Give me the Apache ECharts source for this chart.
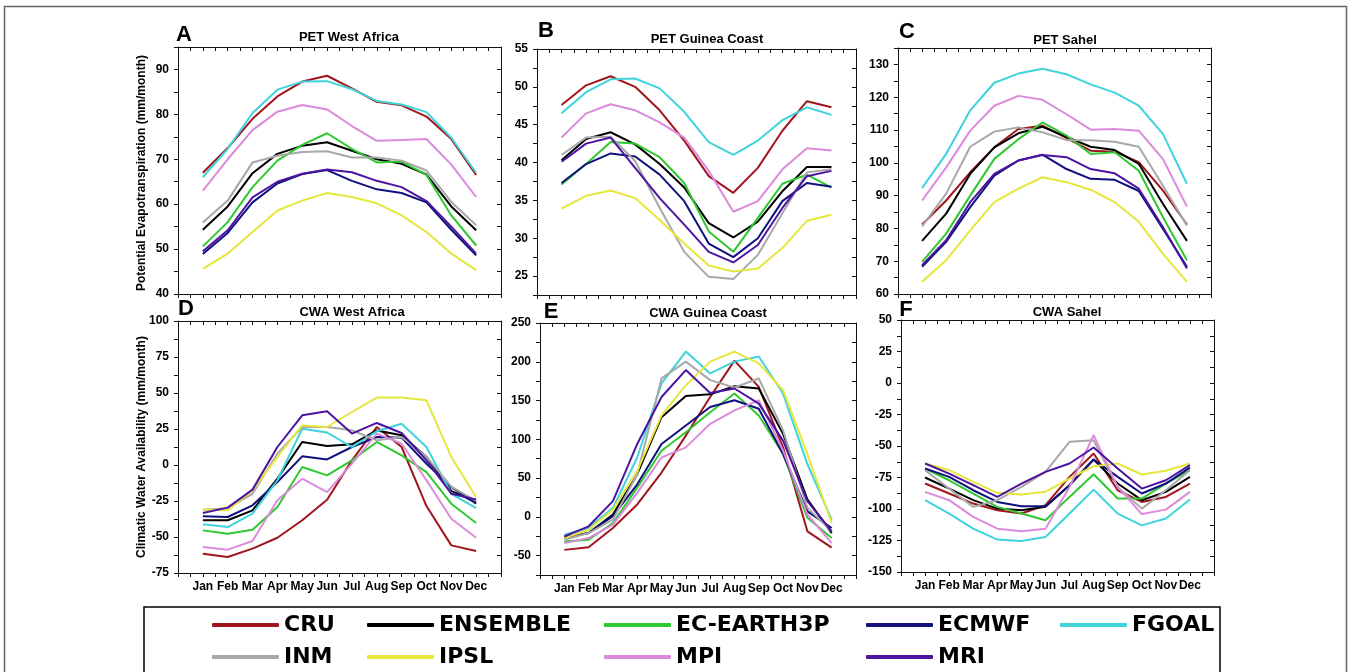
<!DOCTYPE html>
<html>
<head>
<meta charset="utf-8">
<script src="https://cdn.jsdelivr.net/npm/echarts@6/dist/echarts.min.js"></script>
<style>
html,body{margin:0;padding:0;background:#fff;}
#chart{width:1352px;height:672px;}
</style>
</head>
<body>
<div id="chart"></div>
<script>
// ---------------- DATA ----------------
const months = ['Jan','Feb','Mar','Apr','May','Jun','Jul','Aug','Sep','Oct','Nov','Dec'];
const models = ['CRU','ENSEMBLE','EC-EARTH3P','ECMWF','FGOAL','INM','IPSL','MPI','MRI'];

const petWestAfrica = {
  'CRU':        [67.0, 72.5, 79.0, 84.0, 87.3, 88.6, 85.8, 82.8, 82.0, 79.5, 74.5, 66.5],
  'ENSEMBLE':   [54.3, 59.5, 66.9, 71.2, 73.0, 73.8, 71.9, 70.0, 69.0, 66.6, 59.5, 54.2],
  'EC-EARTH3P': [50.6, 56.0, 63.8, 69.7, 73.2, 75.8, 72.3, 69.3, 69.5, 66.5, 57.5, 50.8],
  'ECMWF':      [48.9, 53.6, 60.4, 64.6, 66.7, 67.6, 65.2, 63.3, 62.5, 60.4, 54.3, 48.6],
  'FGOAL':      [66.0, 72.3, 80.3, 85.5, 87.3, 87.4, 85.6, 83.0, 82.2, 80.5, 74.8, 67.0],
  'INM':        [55.9, 60.8, 69.3, 70.8, 71.6, 71.8, 70.4, 70.4, 69.7, 67.5, 60.5, 55.3],
  'IPSL':       [45.6, 49.0, 53.8, 58.6, 60.8, 62.5, 61.6, 60.2, 57.5, 53.8, 49.0, 45.3],
  'MPI':        [63.0, 70.0, 76.5, 80.6, 82.1, 81.1, 77.4, 74.1, 74.3, 74.5, 68.8, 61.6],
  'MRI':        [49.5, 54.2, 61.5, 65.0, 66.8, 67.7, 67.1, 65.2, 63.8, 60.7, 55.0, 49.0]
};
const petGuineaCoast = {
  'CRU':        [47.6, 50.2, 51.4, 50.0, 46.9, 42.9, 38.2, 36.0, 39.3, 44.2, 48.1, 47.3],
  'ENSEMBLE':   [40.3, 43.1, 44.0, 42.4, 39.8, 36.7, 32.0, 30.1, 32.2, 36.2, 39.4, 39.4],
  'EC-EARTH3P': [37.1, 39.8, 42.7, 42.5, 40.7, 37.3, 30.9, 28.2, 32.7, 37.2, 38.4, 36.7],
  'ECMWF':      [37.3, 39.8, 41.2, 40.8, 38.4, 34.9, 29.3, 27.5, 30.0, 34.9, 37.3, 36.8],
  'FGOAL':      [46.5, 49.3, 51.0, 51.1, 49.8, 46.7, 42.7, 41.0, 42.9, 45.6, 47.3, 46.3],
  'INM':        [41.0, 43.3, 43.4, 40.2, 34.0, 28.2, 24.9, 24.6, 27.8, 33.3, 38.7, 39.1],
  'IPSL':       [33.9, 35.6, 36.3, 35.3, 32.4, 29.3, 26.4, 25.6, 26.0, 28.7, 32.3, 33.1],
  'MPI':        [43.3, 46.5, 47.7, 46.9, 45.3, 43.3, 38.9, 33.5, 34.9, 39.1, 41.9, 41.6],
  'MRI':        [40.1, 42.5, 43.3, 39.3, 35.3, 31.8, 28.2, 26.8, 29.1, 34.0, 38.2, 38.9]
};
const petSahel = {
  'CRU':        [81.2, 88.5, 97.1, 104.7, 110.3, 111.3, 107.5, 103.7, 103.4, 100.2, 91.6, 81.2],
  'ENSEMBLE':   [76.2, 84.5, 96.6, 104.7, 109.0, 111.0, 107.9, 104.9, 103.9, 99.7, 87.5, 76.2],
  'EC-EARTH3P': [69.8, 78.4, 90.0, 101.2, 107.2, 112.3, 108.3, 102.7, 103.2, 97.6, 83.5, 70.3],
  'ECMWF':      [68.3, 75.9, 86.5, 96.1, 100.7, 102.5, 98.1, 95.1, 94.8, 91.4, 79.9, 68.3],
  'FGOAL':      [92.3, 102.7, 116.0, 124.4, 127.2, 128.7, 127.0, 123.9, 121.4, 117.4, 108.8, 93.6],
  'INM':        [80.6, 90.6, 104.9, 109.5, 110.8, 109.3, 106.9, 106.9, 106.4, 104.9, 93.1, 80.9],
  'IPSL':       [63.7, 70.3, 79.4, 88.0, 92.1, 95.6, 94.1, 91.8, 88.0, 82.0, 72.3, 63.7],
  'MPI':        [88.5, 98.6, 109.8, 117.4, 120.4, 119.2, 114.8, 110.1, 110.3, 109.8, 101.2, 86.7],
  'MRI':        [68.8, 76.4, 88.0, 96.6, 100.7, 102.4, 101.7, 98.1, 96.8, 92.1, 80.4, 67.8]
};
const cwaWestAfrica = {
  'CRU':        [-61.6, -63.9, -58.1, -50.5, -38.4, -24.1, 3.2, 26.4, 12.5, -28.5, -55.8, -59.7],
  'ENSEMBLE':   [-38.4, -38.4, -31.5, -9.5, 16.0, 13.2, 14.4, 24.0, 20.6, 5.6, -18.0, -26.0],
  'EC-EARTH3P': [-45.4, -47.7, -44.9, -29.2, -1.4, -7.2, 3.2, 16.0, 6.7, -4.9, -26.9, -40.3],
  'ECMWF':      [-35.6, -36.1, -28.0, -11.8, 6.0, 3.9, 12.5, 19.4, 19.0, 0.9, -15.3, -26.9],
  'FGOAL':      [-41.2, -43.1, -33.8, -10.6, 25.2, 22.5, 12.5, 23.4, 28.7, 12.5, -20.0, -30.0],
  'INM':        [-31.0, -30.0, -20.0, 7.9, 26.4, 26.4, 24.1, 17.1, 19.4, 5.6, -15.0, -25.0],
  'IPSL':       [-31.0, -31.5, -17.6, 5.6, 27.5, 26.4, 36.8, 46.8, 46.8, 44.9, 5.6, -22.2],
  'MPI':        [-57.0, -58.8, -52.8, -24.5, -9.5, -18.8, 0.9, 21.8, 14.8, -10.6, -37.3, -50.5],
  'MRI':        [-33.3, -29.6, -17.1, 12.5, 34.5, 37.3, 21.8, 29.2, 22.2, 3.2, -19.9, -24.0]
};
const cwaGuineaCoast = {
  'CRU':        [-42.6, -39.1, -14.4, 16.0, 57.1, 104.8, 154.6, 201.5, 167.6, 89.6, -18.7, -39.6],
  'ENSEMBLE':   [-27.4, -20.9, 3.0, 55.0, 128.6, 156.0, 158.0, 168.5, 165.5, 107.0, 22.5, -20.9],
  'EC-EARTH3P': [-31.7, -29.6, -7.9, 37.7, 85.3, 109.1, 135.0, 159.0, 130.8, 81.0, -1.3, -27.4],
  'ECMWF':      [-26.5, -20.9, 0.8, 42.0, 94.0, 117.8, 141.6, 150.3, 139.5, 81.0, 7.0, -14.4],
  'FGOAL':      [-23.1, -14.4, 11.6, 76.6, 172.0, 213.2, 185.0, 200.2, 206.7, 159.0, 68.0, -3.6],
  'INM':        [-29.6, -20.9, -3.6, 55.0, 178.5, 200.2, 176.3, 166.8, 178.5, 111.3, 11.7, -18.7],
  'IPSL':       [-27.4, -16.6, 9.4, 59.3, 130.8, 169.8, 200.2, 213.2, 198.0, 163.3, 81.0, -7.9],
  'MPI':        [-33.9, -27.4, -10.1, 31.0, 76.6, 89.6, 120.0, 137.3, 150.3, 85.3, 3.0, -33.9],
  'MRI':        [-25.3, -12.2, 20.3, 94.0, 154.6, 189.3, 159.8, 165.5, 146.0, 98.3, 20.3, -18.7]
};
const cwaSahel = {
  'CRU':        [-79.8, -87.7, -95.7, -101.0, -103.6, -97.0, -74.5, -56.0, -85.1, -94.4, -90.4, -79.8],
  'ENSEMBLE':   [-75.0, -83.8, -93.0, -99.7, -101.0, -98.3, -81.1, -60.7, -79.8, -93.0, -86.4, -74.5],
  'EC-EARTH3P': [-67.9, -77.2, -87.7, -98.3, -103.6, -108.9, -90.4, -72.4, -91.7, -91.7, -79.8, -69.2],
  'ECMWF':      [-67.9, -74.5, -85.1, -94.4, -97.8, -97.8, -81.1, -60.7, -74.5, -87.7, -79.8, -67.1],
  'FGOAL':      [-93.0, -103.6, -115.6, -124.3, -125.4, -122.2, -103.6, -84.6, -103.6, -113.0, -107.6, -92.5],
  'INM':        [-69.2, -83.8, -98.3, -93.0, -82.5, -70.5, -46.7, -45.4, -82.5, -99.7, -85.1, -69.2],
  'IPSL':       [-63.9, -69.2, -78.5, -87.2, -88.5, -86.4, -75.8, -66.0, -63.9, -72.6, -69.7, -63.9],
  'MPI':        [-86.4, -93.0, -106.3, -115.6, -117.7, -115.6, -82.5, -41.4, -82.5, -104.0, -100.5, -86.4],
  'MRI':        [-63.9, -71.9, -81.1, -90.4, -79.8, -70.5, -63.9, -51.2, -67.9, -83.8, -77.2, -65.2]
};

// tick labels
const yTicksPetWestAfrica   = [40, 50, 60, 70, 80, 90];
const yTicksPetGuineaCoast  = [25, 30, 35, 40, 45, 50, 55];
const yTicksPetSahel        = [60, 70, 80, 90, 100, 110, 120, 130];
const yTicksCwaWestAfrica   = [-75, -50, -25, 0, 25, 50, 75, 100];
const yTicksCwaGuineaCoast  = [-50, 0, 50, 100, 150, 200, 250];
const yTicksCwaSahel        = [-150, -125, -100, -75, -50, -25, 0, 25, 50];

// ---------------- STYLE ----------------
const colors = {
  'CRU': '#a0161c', 'ENSEMBLE': '#000000', 'EC-EARTH3P': '#2fc82f', 'ECMWF': '#10107e',
  'FGOAL': '#3fd3dc', 'INM': '#a8a8a8', 'IPSL': '#e6e63c', 'MPI': '#dc8adc', 'MRI': '#4c14a0'
};
const FONT = "'Liberation Sans', Arial, sans-serif";

const panels = [
  {letter:'A', title:'PET West Africa',  data:petWestAfrica,  ticks:yTicksPetWestAfrica,  min:40,   max:95,  step:5,    months:false, grid:{left:178, top:47,  width:323, height:247}, lx:184, ly:35,  tx:349,  ty:37},
  {letter:'B', title:'PET Guinea Coast', data:petGuineaCoast, ticks:yTicksPetGuineaCoast, min:22.5, max:55,  step:2.5,  months:false, grid:{left:537, top:49,  width:319, height:246}, lx:546, ly:31,  tx:707,  ty:39},
  {letter:'C', title:'PET Sahel',        data:petSahel,       ticks:yTicksPetSahel,       min:60,   max:135, step:5,    months:false, grid:{left:898, top:48,  width:313, height:246}, lx:907, ly:32,  tx:1065, ty:40},
  {letter:'D', title:'CWA West Africa',  data:cwaWestAfrica,  ticks:yTicksCwaWestAfrica,  min:-75,  max:100, step:12.5, months:true,  grid:{left:178, top:321, width:323, height:252}, lx:186, ly:309, tx:352,  ty:312},
  {letter:'E', title:'CWA Guinea Coast', data:cwaGuineaCoast, ticks:yTicksCwaGuineaCoast, min:-75,  max:250, step:25,   months:true,  grid:{left:540, top:323, width:316, height:252}, lx:551, ly:312, tx:708,  ty:313},
  {letter:'F', title:'CWA Sahel',        data:cwaSahel,       ticks:yTicksCwaSahel,       min:-150, max:50,  step:12.5, months:true,  grid:{left:901, top:320, width:313, height:252}, lx:906, ly:310, tx:1067, ty:312}
];

const near = (a, b) => Math.abs(a - b) < 1e-6;
const grids = [], xAxes = [], yAxes = [], series = [], graphics = [];
const axisLine = {show:true, onZero:false, lineStyle:{color:'#111', width:1}};
const n = panels.length;

panels.forEach((p, i) => {
  grids.push(Object.assign({containLabel:false}, p.grid));
  xAxes[i] = {
    type:'value', gridIndex:i, min:0, max:13, interval:0.5, position:'bottom',
    axisLine, splitLine:{show:false},
    axisTick:{show:true, inside:false, length:4, lineStyle:{color:'#111'}},
    axisLabel:{show:p.months, margin:8, color:'#000', fontFamily:FONT, fontWeight:'bold', fontSize:12,
      formatter:v => (near(v, Math.round(v)) && v >= 1 && v <= 12) ? months[Math.round(v) - 1] : ''}
  };
  xAxes[i + n] = {
    type:'value', gridIndex:i, min:0, max:13, interval:0.5, position:'top',
    axisLine, splitLine:{show:false},
    axisTick:{show:true, inside:true, length:4, lineStyle:{color:'#111'}},
    axisLabel:{show:false}
  };
  yAxes[i] = {
    type:'value', gridIndex:i, min:p.min, max:p.max, interval:p.step, position:'left',
    axisLine, splitLine:{show:false},
    axisTick:{show:true, inside:false, length:4, lineStyle:{color:'#111'}},
    axisLabel:{show:true, margin:9, color:'#000', fontFamily:FONT, fontWeight:'bold', fontSize:12,
      formatter:v => { const t = p.ticks.find(t => near(t, v)); return t === undefined ? '' : String(t); }}
  };
  yAxes[i + n] = {
    type:'value', gridIndex:i, min:p.min, max:p.max, interval:p.step, position:'right',
    axisLine, splitLine:{show:false},
    axisTick:{show:true, inside:true, length:4, lineStyle:{color:'#111'}},
    axisLabel:{show:false}
  };
  models.forEach(m => {
    series.push({
      type:'line', name:m, xAxisIndex:i, yAxisIndex:i,
      data:p.data[m].map((v, k) => [k + 1, v]),
      showSymbol:false, symbol:'none', silent:true,
      lineStyle:{width:2, color:colors[m]}, itemStyle:{color:colors[m]},
      emphasis:{disabled:true}
    });
  });
  graphics.push({type:'text', x:p.tx, y:p.ty, silent:true,
    style:{text:p.title, fill:'#000', font:'bold 13px ' + FONT, textAlign:'center', textVerticalAlign:'middle'}});
  graphics.push({type:'text', x:p.lx, y:p.ly, silent:true,
    style:{text:p.letter, fill:'#000', font:'bold 22px ' + FONT, textAlign:'center', textVerticalAlign:'middle'}});
});

graphics.push({type:'text', x:142, y:173, rotation:Math.PI / 2, silent:true,
  style:{text:'Potential Evapotranspiration (mm/month)', fill:'#000', font:'bold 12px ' + FONT, textAlign:'center', textVerticalAlign:'middle'}});
graphics.push({type:'text', x:142, y:447, rotation:Math.PI / 2, silent:true,
  style:{text:'Climatic Water Availability (mm/month)', fill:'#000', font:'bold 12px ' + FONT, textAlign:'center', textVerticalAlign:'middle'}});
graphics.push({type:'rect', silent:true, z:-1, shape:{x:4.5, y:6.5, width:1342, height:720},
  style:{fill:'none', stroke:'#666', lineWidth:1.5}});
graphics.push({type:'rect', silent:true, z:-1, shape:{x:144, y:607, width:1076, height:120},
  style:{fill:'none', stroke:'#000', lineWidth:1.5}});

const legendCols = [
  {left:212, data:['CRU', 'INM']},
  {left:367, data:['ENSEMBLE', 'IPSL']},
  {left:604, data:['EC-EARTH3P', 'MPI']},
  {left:866, data:['ECMWF', 'MRI']},
  {left:1060, data:['FGOAL']}
];
const legends = legendCols.map(c => ({
  left:c.left, top:613, orient:'vertical', padding:0, itemGap:8,
  itemWidth:67, itemHeight:4, icon:'roundRect', selectedMode:false,
  data:c.data,
  textStyle:{fontFamily:"'DejaVu Sans', sans-serif", fontWeight:'bold', fontSize:22, lineHeight:24, color:'#000'}
}));

const chart = echarts.init(document.getElementById('chart'), null, {renderer:'canvas'});
chart.setOption({
  animation:false,
  backgroundColor:'#fff',
  grid:grids, xAxis:xAxes, yAxis:yAxes, series,
  legend:legends,
  graphic:graphics
});
</script>
</body>
</html>
